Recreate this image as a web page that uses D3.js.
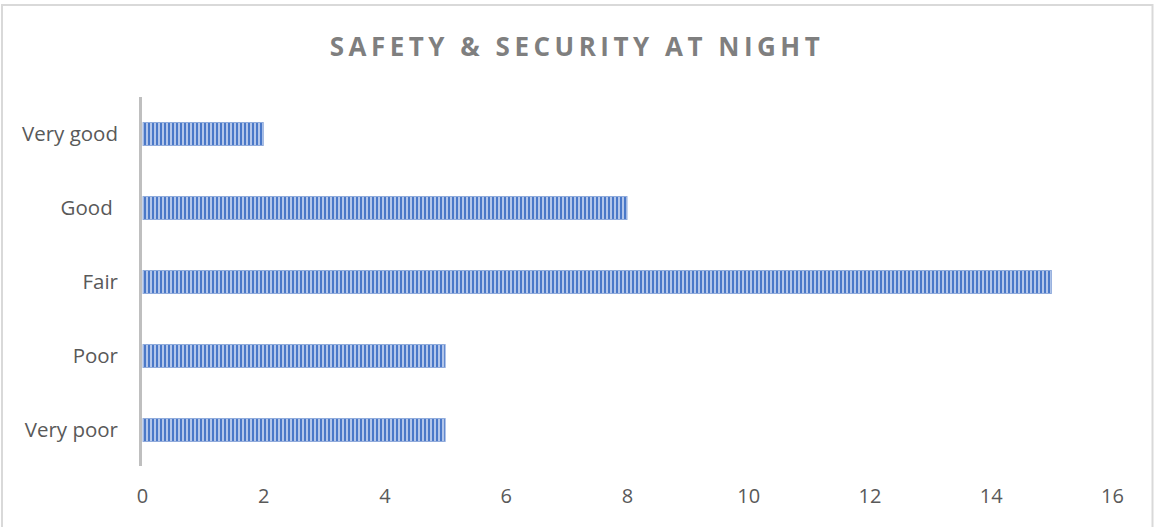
<!DOCTYPE html>
<html><head><meta charset="utf-8">
<script src="https://cdn.jsdelivr.net/npm/d3@7"></script>
<style>
html,body{margin:0;padding:0;background:#fff;}
svg{display:block;}
text{font-family:"Open Sans","Liberation Sans",sans-serif;}
</style></head>
<body>
<svg id="chart" width="1154" height="527"></svg>
<script>
const categories = ["Very good", "Good ", "Fair", "Poor", "Very poor"];
const values = [2, 8, 15, 5, 5];
const xTicks = [0, 2, 4, 6, 8, 10, 12, 14, 16];
const title = "SAFETY & SECURITY AT NIGHT";

const svg = d3.select("#chart");
const defs = svg.append("defs");
const pat = defs.append("pattern").attr("id","stripes").attr("patternUnits","userSpaceOnUse")
  .attr("width",4).attr("height",10);
pat.append("rect").attr("width",4).attr("height",10).attr("fill","#b3c6ea");
pat.append("rect").attr("width",2).attr("height",10).attr("fill","#4a78c8");

// chart border
svg.append("rect").attr("x",2).attr("y",5).attr("width",1150.5).attr("height",530)
  .attr("fill","none").attr("stroke","#d9d9d9").attr("stroke-width",2);

const x = d3.scaleLinear().domain([0,16]).range([142,1112]);
const y = d3.scaleBand().domain(categories).range([97,467]).paddingInner(0.69).paddingOuter(0.345);

svg.append("text").attr("x",577).attr("y",56).attr("text-anchor","middle")
  .attr("fill","#7f7f7f").attr("font-size",26).attr("font-weight","bold")
  .attr("letter-spacing","4.5px").text(title);

svg.selectAll("rect.bar").data(values).enter().append("rect").attr("class","bar")
  .attr("x",x(0)+1).attr("y",(d,i)=>y(categories[i]))
  .attr("width",d=>x(d)-x(0)-1).attr("height",y.bandwidth())
  .attr("fill","url(#stripes)").attr("stroke","#8faadc").attr("stroke-width",1);

// x axis labels
const xAxis = d3.axisBottom(x).tickValues(xTicks).tickSize(0).tickPadding(0);
const gx = svg.append("g").attr("transform","translate(0,490)").call(xAxis);
gx.select(".domain").remove();
gx.selectAll("text").attr("font-size",20).attr("fill","#595959").attr("dy","0.32em").attr("y",7);

// y axis
const yAxis = d3.axisLeft(y).tickSize(0).tickPadding(24);
const gy = svg.append("g").attr("transform",`translate(${x(0)},0)`).call(yAxis);
gy.select(".domain").remove();
gy.selectAll("text").attr("font-size",20.5).attr("fill","#595959").style("white-space","pre");
svg.append("line").attr("x1",x(0)-1.5).attr("x2",x(0)-1.5).attr("y1",97).attr("y2",466)
  .attr("stroke","#bfbfbf").attr("stroke-width",3);
</script>
</body></html>
